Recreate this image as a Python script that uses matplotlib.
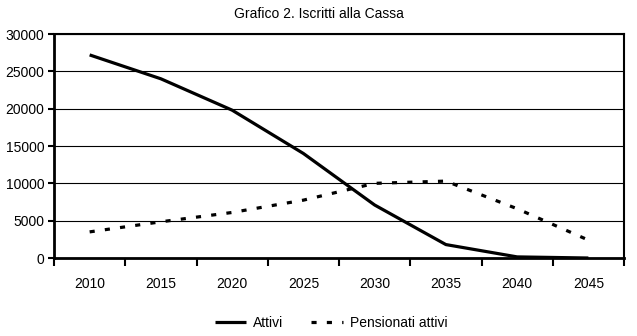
"""Line chart of fund members (active vs. active pensioners), 2010-2045."""

import matplotlib

matplotlib.use("Agg")
import matplotlib.pyplot as plt
import numpy as np
from matplotlib.ticker import FixedLocator

plt.rcParams["font.family"] = ["Liberation Sans Narrow", "Liberation Sans", "DejaVu Sans"]

years = ["2010", "2015", "2020", "2025", "2030", "2035", "2040", "2045"]
attivi = [27200, 24000, 19800, 14000, 7100, 1800, 150, 0]
pensionati_attivi = [3500, 4850, 6100, 7750, 10000, 10300, 6600, 2400]
y_ticks = [0, 5000, 10000, 15000, 20000, 25000, 30000]

FS = 10


def main() -> None:
    fig = plt.figure(figsize=(6.37, 3.36), dpi=100)
    ax = fig.add_axes([0.0848, 0.2321, 0.8948, 0.6667])

    x = np.arange(len(years))
    ax.plot(x, attivi, color="black", lw=2.3, solid_capstyle="butt", label="Attivi")
    ax.plot(x, pensionati_attivi, color="black", lw=2.3,
            linestyle=(0, (1.6, 3.2)), dash_capstyle="butt", label="Pensionati attivi")

    ax.set_xlim(-0.5, len(years) - 0.5)
    ax.set_ylim(0, 30000)
    ax.set_yticks(y_ticks)
    ax.set_yticklabels([str(v) for v in y_ticks])
    ax.yaxis.grid(True, color="black", lw=0.8)
    ax.set_axisbelow(True)

    # category labels centred, tick marks on the category boundaries
    ax.set_xticks(x)
    ax.set_xticklabels(years)
    ax.tick_params(axis="x", which="major", length=0, pad=14, labelsize=FS)
    ax.xaxis.set_minor_locator(FixedLocator(np.arange(-0.5, len(years), 1.0)))
    ax.tick_params(axis="x", which="minor", length=6, width=1.5, direction="out")
    ax.tick_params(axis="y", length=4, width=1.5, direction="out", pad=3, labelsize=FS)

    for side in ("left", "bottom"):
        ax.spines[side].set_linewidth(2.0)
    for side in ("top", "right"):
        ax.spines[side].set_linewidth(1.5)

    fig.text(0.5, 0.958, "Grafico 2. Iscritti alla Cassa", ha="center", va="center", fontsize=FS)

    fig.legend(loc="center", bbox_to_anchor=(0.52, 0.04), ncol=2, frameon=False,
               fontsize=FS, handlelength=2.3, handletextpad=0.5, columnspacing=2.0)

    fig.savefig("out.png", dpi=100)
    plt.close(fig)


if __name__ == "__main__":
    main()
